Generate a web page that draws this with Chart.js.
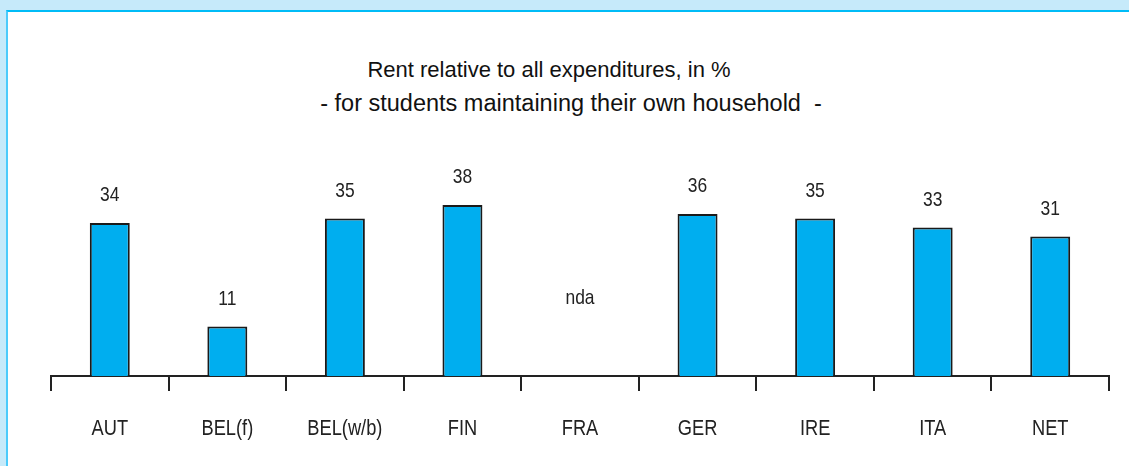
<!DOCTYPE html>
<html>
<head>
<meta charset="utf-8">
<script src="https://cdn.jsdelivr.net/npm/chart.js@4.4.1/dist/chart.umd.min.js"></script>
<style>
    body { margin: 0; background: #c6eafa; width: 1129px; height: 466px; overflow: hidden; position: relative; }
    #panel { position: absolute; left: 6px; top: 10px; width: 1200px; height: 500px; background: #fff;
             border-top: 2px solid #00bcf7; border-left: 2px solid #4ccbfb; }
    .title { position: absolute; width: 1110px; text-align: center; font-family: "Liberation Sans", Arial, sans-serif;
             font-size: 22px; line-height: 26px; color: #111; white-space: pre; }
    #wrap { position: absolute; left: 0; top: 0; width: 1129px; height: 466px; }
</style>
</head>
<body>
<div id="panel"></div>
<div class="title" style="top:57px; left:-6px;">Rent relative to all expenditures, in %</div>
<div class="title" style="top:90px; left:16px; font-size:23.5px;">- for students maintaining their own household  -</div>
<div id="wrap"><canvas id="rentChart"></canvas></div>
<script>
// Data
const countries = ["AUT", "BEL(f)", "BEL(w/b)", "FIN", "FRA", "GER", "IRE", "ITA", "NET"];
const rentShare = [34, 11, 35, 38, null, 36, 35, 33, 31];
const noDataLabel = "nda";
const noDataLevel = 17.3; // height where "nda" sits

// narrow look: Liberation Sans squeezed sideways
const labelFont = '"Liberation Sans", Arial, sans-serif';
const squeeze = 0.83;

function narrowText(ctx, text, x, y, size) {
    ctx.save();
    ctx.font = size + "px " + labelFont;
    ctx.fillStyle = "#222";
    ctx.textAlign = "center";
    ctx.textBaseline = "middle";
    ctx.translate(x, y);
    ctx.scale(squeeze, 1);
    ctx.fillText(text, 0, 0);
    ctx.restore();
}

// values above the bars, "nda" where there is none, and the country names under the axis
const chartTexts = {
    id: "chartTexts",
    afterDraw(chart) {
        const ctx = chart.ctx;
        const meta = chart.getDatasetMeta(0);
        const xScale = chart.scales.x;
        const yScale = chart.scales.y;
        meta.data.forEach((bar, i) => {
            const v = rentShare[i];
            if (v === null) {
                narrowText(ctx, noDataLabel, bar.x, yScale.getPixelForValue(noDataLevel), 21);
            } else {
                narrowText(ctx, String(v), bar.x, bar.y - 27.5, 21);
            }
        });
        countries.forEach((c, i) => {
            narrowText(ctx, c, xScale.getPixelForValue(i), xScale.bottom + 38, 22);
        });
    }
};

new Chart(document.getElementById("rentChart"), {
    type: "bar",
    data: {
        labels: countries,
        datasets: [{
            data: rentShare,
            backgroundColor: "#00aeef",
            borderColor: "#1a1a1a",
            borderWidth: 2,
            borderSkipped: "bottom",
            barPercentage: 0.34,
            categoryPercentage: 1
        }]
    },
    options: {
        responsive: true,
        maintainAspectRatio: false,
        animation: false,
        layout: { padding: { left: 51, right: 20, top: 151, bottom: 75 } },
        plugins: {
            legend: { display: false },
            title: { display: false },
            tooltip: { enabled: false }
        },
        scales: {
            x: {
                offset: true,
                border: { display: true, color: "#222", width: 2 },
                grid: { offset: true, drawOnChartArea: false, drawTicks: true, tickLength: 15, color: "#222", lineWidth: 2 },
                ticks: { display: false }
            },
            y: {
                display: false,
                min: 0,
                max: 50
            }
        }
    },
    plugins: [chartTexts]
});
</script>
</body>
</html>
